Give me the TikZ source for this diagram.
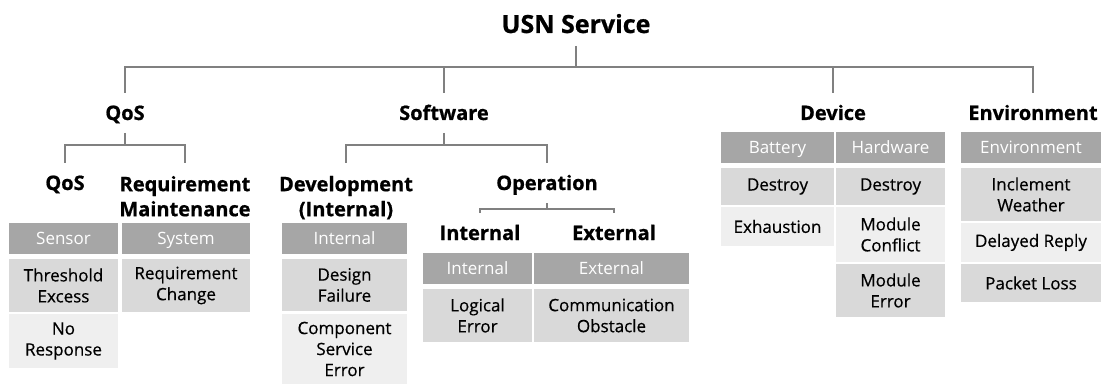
\documentclass[tikz,border=0pt]{standalone}
\usepackage{fontspec}
\setmainfont{Open Sans}
\usetikzlibrary{positioning}
\definecolor{hdrgray}{RGB}{166,166,166}
\definecolor{celldark}{RGB}{217,217,217}
\definecolor{celllight}{RGB}{239,239,239}
\definecolor{linegray}{RGB}{128,128,128}
\newcommand{\headfont}{\bfseries\addfontfeatures{FakeBold=0.8}\fontsize{20}{25}\selectfont}
\newcommand{\cellfont}{\addfontfeatures{FakeBold=0.5}\fontsize{17}{21}\selectfont}
\tikzset{
  branch/.style={draw=linegray, line width=1.3pt},
  head/.style={font=\headfont, inner sep=0pt, outer ysep=13pt, text height=14pt, text depth=0pt},
  headml/.style={font=\headfont, inner sep=0pt, outer ysep=13pt, align=center, anchor=north},
  hdr/.style={fill=hdrgray, text=white, font=\fontsize{17}{20}\selectfont, inner sep=0pt, outer sep=0pt, text height=12pt, text depth=0pt, minimum height=31pt, anchor=north west},
  dark/.style={fill=celldark, font=\cellfont, inner sep=0pt, outer sep=0pt, align=center, anchor=north west},
  light/.style={dark, fill=celllight}
}
\begin{document}
\begin{tikzpicture}[x=1pt,y=-1pt]
\useasboundingbox (0,0) rectangle (1103,385);
\node[head, font=\bfseries\addfontfeatures{FakeBold=0.8}\fontsize{25}{30}\selectfont, text height=18pt] (svc) at (576,24) {USN Service};
\node[head] (qos1) at (125,113) {QoS};
\node[head] (sw1) at (444,113) {Software};
\node[head] (dev1) at (833,113) {Device};
\node[head] (env1) at (1033,113) {Environment};
\node[head] (qos2) at (65,183) {QoS};
\node[headml] (req2) at (185,163) {Requirement\\Maintenance};
\node[headml] (dev2) at (346,163) {Development\\(Internal)};
\node[head] (op2) at (547,183) {Operation};
\node[head] (int3) at (480,233) {Internal};
\node[head] (ext3) at (614,233) {External};
  \draw[branch] (svc.south) -- ++(0,21);
  \draw[branch] (qos1.north) -- ++(0,-26) -| (env1.north);
  \draw[branch] (sw1.north) -- ++(0,-26);
  \draw[branch] (dev1.north) -- ++(0,-26);
  \draw[branch] (qos1.south) -- ++(0,12) coordinate (qosj);
  \draw[branch] (qos2.north) |- (qosj) -| (req2.north);
  \draw[branch] (sw1.south) -- ++(0,12) coordinate (swj);
  \draw[branch] (dev2.north) |- (swj) -| (op2.north);
  \draw[branch] (op2.south) -- ++(0,6) coordinate (opj);
  \draw[branch] (int3.north) |- (opj) -| (ext3.north);
\node[hdr, minimum width=109pt] (sens) at (9,223) {Sensor};
\node[dark, minimum width=109pt, minimum height=53pt, below=5pt of sens] (thr) {Threshold\\Excess};
\node[light, minimum width=109pt, minimum height=54pt, below=2pt of thr] (nores) {No\\Response};
\node[hdr, minimum width=128pt] (sys) at (122,223) {System};
\node[dark, minimum width=128pt, minimum height=53pt, below=5pt of sys] (reqch) {Requirement\\Change};
\node[hdr, minimum width=125pt] (dint) at (282,223) {Internal};
\node[dark, minimum width=125pt, minimum height=52pt, below=5pt of dint] (desf) {Design\\Failure};
\node[light, minimum width=125pt, minimum height=70pt, below=3pt of desf] (comp) {Component\\Service\\Error};
\node[hdr, minimum width=109pt] (oint) at (423,253) {Internal};
\node[dark, minimum width=109pt, minimum height=53pt, below=5pt of oint] (lerr) {Logical\\Error};
\node[hdr, minimum width=155pt] (oext) at (534,253) {External};
\node[dark, minimum width=155pt, minimum height=53pt, below=5pt of oext] (comm) {Communication\\Obstacle};
\node[hdr, minimum width=113pt] (batt) at (721,132) {Battery};
\node[dark, minimum width=113pt, minimum height=37pt, below=5pt of batt] (bdes) {Destroy};
\node[light, minimum width=113pt, minimum height=39pt, below=2pt of bdes] (exh) {Exhaustion};
\node[hdr, minimum width=109pt] (hw) at (836,132) {Hardware};
\node[dark, minimum width=109pt, minimum height=37pt, below=5pt of hw] (hdes) {Destroy};
\node[light, minimum width=109pt, minimum height=55pt, below=2pt of hdes] (modc) {Module\\Conflict};
\node[dark, minimum width=109pt, minimum height=53pt, below=2pt of modc] (mode) {Module\\Error};
\node[hdr, minimum width=140pt] (envh) at (961,132) {Environment};
\node[dark, minimum width=140pt, minimum height=53pt, below=5pt of envh] (incl) {Inclement\\Weather};
\node[light, minimum width=140pt, minimum height=39pt, below=2pt of incl] (dely) {Delayed Reply};
\node[dark, minimum width=140pt, minimum height=38pt, below=2pt of dely] (pkt) {Packet Loss};
\end{tikzpicture}
\end{document}
